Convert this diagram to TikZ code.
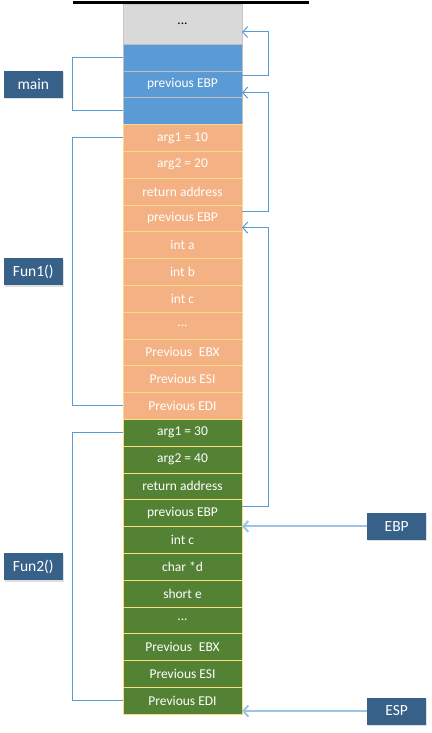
\documentclass[tikz,border=0pt]{standalone}
\usepackage{fontspec}
\setmainfont{Carlito}
\usetikzlibrary{arrows.meta, positioning, calc, shadows}
\definecolor{stackgray}{HTML}{D9D9D9}
\definecolor{mainblue}{HTML}{5B9BD5}
\definecolor{funorange}{HTML}{F4B183}
\definecolor{fungreen}{HTML}{548235}
\definecolor{labelblue}{HTML}{38618A}
\definecolor{linkblue}{HTML}{5B9BD5}
\definecolor{ptrblue}{HTML}{9DC3E6}
\tikzset{
  cell/.style={
    rectangle, draw=#1, minimum width=119pt, minimum height=26.8pt,
    inner sep=0pt, outer sep=0pt, text=white,
    font=\fontsize{13.5}{15}\selectfont
  },
  graycell/.style={cell=stackgray!80!gray, fill=stackgray, text=black},
  maincell/.style={cell=gray!50, fill=mainblue},
  f1cell/.style={cell=yellow!40!orange!45, fill=funorange},
  f2cell/.style={cell=yellow!55!orange!50, fill=fungreen},
  fnlabel/.style={
    rectangle, fill=labelblue, text=white, minimum width=59pt,
    minimum height=27pt, inner sep=0pt,
    font=\fontsize{15.5}{17}\selectfont,
    drop shadow={opacity=0.25, shadow xshift=1pt, shadow yshift=-1.5pt}
  },
  bracket/.style={draw=linkblue, line width=1pt},
  link/.style={-{Straight Barb[length=5pt, width=11pt]}, draw=linkblue, line width=1pt},
  ptr/.style={-{Straight Barb[length=5pt, width=11pt]}, draw=ptrblue, line width=2pt}
}
\begin{document}
\begin{tikzpicture}[x=1pt, y=-1pt]
  \useasboundingbox (0,0) rectangle (431,733);
  % the stack
  \node[graycell, minimum height=40pt, anchor=north west] (g0) at (123,4) {...};
  \node[maincell, below=0pt of g0] (m1) {};
  \node[maincell, below=0pt of m1] (m2) {previous EBP};
  \node[maincell, below=0pt of m2] (m3) {};
  \node[f1cell, below=0pt of m3] (a1) {arg1 = 10};
  \node[f1cell, below=0pt of a1] (a2) {arg2 = 20};
  \node[f1cell, below=0pt of a2] (a3) {return address};
  \node[f1cell, below=0pt of a3] (a4) {previous EBP};
  \node[f1cell, below=0pt of a4] (a5) {int a};
  \node[f1cell, below=0pt of a5] (a6) {int b};
  \node[f1cell, below=0pt of a6] (a7) {int c};
  \node[f1cell, below=0pt of a7] (a8) {...};
  \node[f1cell, below=0pt of a8] (a9) {Previous\enspace EBX};
  \node[f1cell, below=0pt of a9] (a10) {Previous ESI};
  \node[f1cell, below=0pt of a10] (a11) {Previous EDI};
  \node[f2cell, below=0pt of a11] (b1) {arg1 = 30};
  \node[f2cell, below=0pt of b1] (b2) {arg2 = 40};
  \node[f2cell, below=0pt of b2] (b3) {return address};
  \node[f2cell, below=0pt of b3] (b4) {previous EBP};
  \node[f2cell, below=0pt of b4] (b5) {int c};
  \node[f2cell, below=0pt of b5] (b6) {char *d};
  \node[f2cell, below=0pt of b6] (b7) {short e};
  \node[f2cell, below=0pt of b7] (b8) {...};
  \node[f2cell, below=0pt of b8] (b9) {Previous\enspace EBX};
  \node[f2cell, below=0pt of b9] (b10) {Previous ESI};
  \node[f2cell, below=0pt of b10] (b11) {Previous EDI};
  \draw[line width=3pt] (73,3) -- (309,3);

  % frames on the left
  \draw[bracket] (m1.west) -- ++(-51,0) |- (m3.west);
  \draw[bracket] (a1.west) -- ++(-51,0) |- (a11.west);
  \draw[bracket] (b1.west) -- ++(-51,0) |- (b11.west);
  \node[fnlabel, anchor=east] (lmain) at ($(m2.west)+(-60,0)$) {main};
  \node[fnlabel, anchor=east] (lfun1) at ($(a6.west)+(-60,0)$) {Fun1()};
  \node[fnlabel, anchor=east] (lfun2) at ($(b6.west)+(-60,0)$) {Fun2()};

  % saved EBP links
  \draw[link] ($(m2.north east)+(0,5)$) -- ++(26,0) |- ($(g0.south east)+(0,-12)$);
  \draw[link] ($(a4.north east)+(0,7)$) -- ++(26,0) |- ($(m2.south east)+(0,-5)$);
  \draw[link] ($(b4.north east)+(0,7)$) -- ++(26,0) |- ($(a4.south east)+(0,-4)$);

  % registers
  \node[fnlabel, anchor=west] (ebp) at ($(b5.north east)+(125,0)$) {EBP};
  \node[fnlabel, anchor=west] (esp) at ($(b11.south east)+(125,-3)$) {ESP};
  \draw[ptr] (ebp.west) -- (ebp.west -| b5.east);
  \draw[ptr] (esp.west) -- (esp.west -| b11.east);
\end{tikzpicture}
\end{document}
